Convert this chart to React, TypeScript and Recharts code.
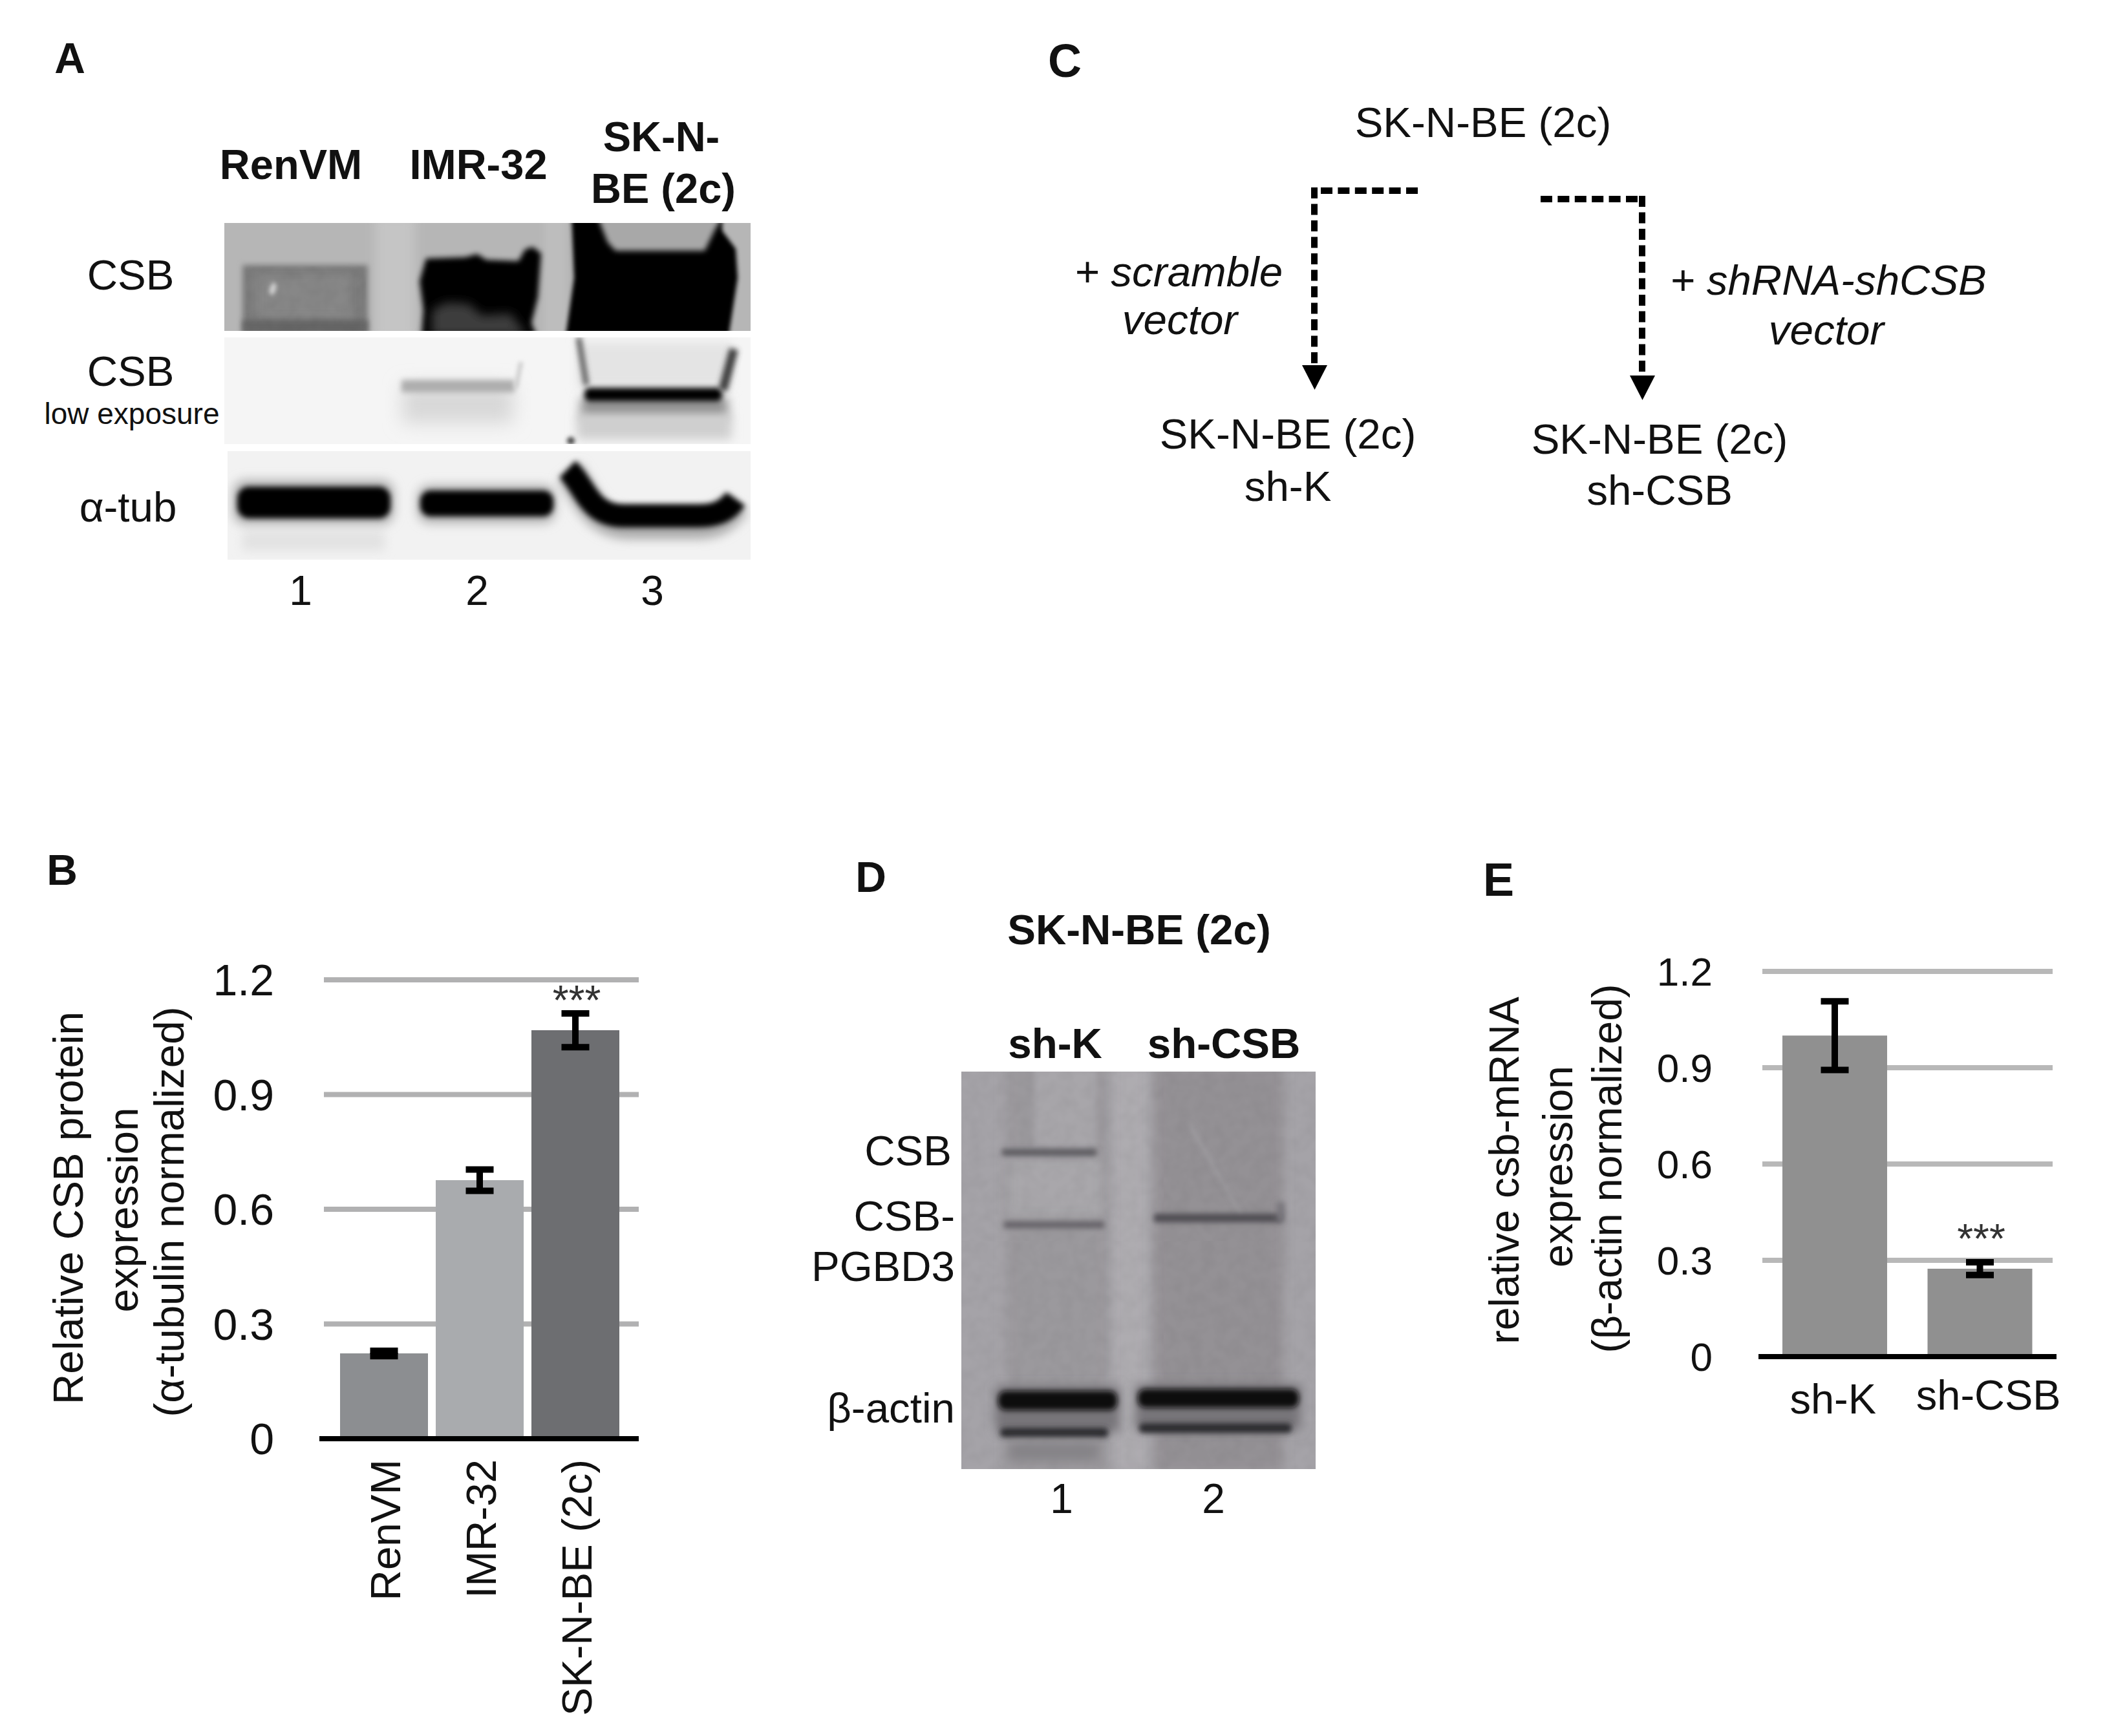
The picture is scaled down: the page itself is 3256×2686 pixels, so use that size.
import React from "react";
import {
  Bar,
  BarChart,
  CartesianGrid,
  Cell,
  ErrorBar,
  LabelList,
  ReferenceLine,
  XAxis,
  YAxis
} from "recharts";

const FONT = "'Liberation Sans', Arial, sans-serif";
const INK = "#111111";

const yTicks = [0, 0.3, 0.6, 0.9, 1.2];

const linesB = ["RenVM", "IMR-32", "SK-N-BE (2c)"];
const valuesB = [0.223, 0.676, 1.068];
const errorsB = [0.007, 0.028, 0.044];
const starsB = ["", "", "***"];
const colorsB = ["#8c8e91", "#a9abae", "#6d6e71"];

const linesE = ["sh-K", "sh-CSB"];
const valuesE = [1.0, 0.274];
const errorsE = [0.107, 0.02];
const starsE = ["", "***"];

const dataB = linesB.map((name, i) => ({ name, value: valuesB[i], err: errorsB[i], stars: starsB[i] }));
const dataE = linesE.map((name, i) => ({ name, value: valuesE[i], err: errorsE[i], stars: starsE[i] }));

function Txt({ x, y, size = 65.5, bold, italic, anchor = "middle", children }: any) {
  return (
    <text
      x={x}
      y={y}
      fontFamily={FONT}
      fontSize={size}
      fontWeight={bold ? 700 : 400}
      fontStyle={italic ? "italic" : "normal"}
      textAnchor={anchor}
      dominantBaseline="central"
      fill={INK}
    >
      {children}
    </text>
  );
}

function VerticalTitle({ lines, size }: { lines: { text: string; x: number; y: number }[]; size: number }) {
  return (
    <g>
      {lines.map((l) => (
        <text
          key={l.text}
          transform={`translate(${l.x},${l.y}) rotate(-90)`}
          fontFamily={FONT}
          fontSize={size}
          textAnchor="middle"
          dominantBaseline="central"
          fill={INK}
        >
          {l.text}
        </text>
      ))}
    </g>
  );
}

function RotatedTick({ x, y, payload }: any) {
  return (
    <text
      transform={`translate(${x + 2},${y + 32}) rotate(-90)`}
      fontFamily={FONT}
      fontSize={65.5}
      textAnchor="end"
      dominantBaseline="central"
      fill={INK}
    >
      {payload.value}
    </text>
  );
}

function Baseline({ x1, x2, y1, extLeft, extRight }: any) {
  return <line x1={x1 - extLeft} x2={x2 + extRight} y1={y1} y2={y1} stroke="#000" strokeWidth={8} />;
}

function Stars({ x, y, width, value }: any) {
  if (!value) return null;
  return (
    <text
      x={x + width / 2 + 2}
      y={y - 46}
      fontFamily={FONT}
      fontSize={64}
      textAnchor="middle"
      dominantBaseline="central"
      fill="#333"
    >
      {value}
    </text>
  );
}

function ChartB() {
  return (
    <div style={{ position: "absolute", left: 0, top: 1460 }}>
      <BarChart
        width={1040}
        height={1226}
        data={dataB}
        barSize={136}
        margin={{ top: 56, right: 52, bottom: 400, left: 0 }}
      >
        <CartesianGrid vertical={false} stroke="#b1b1b2" strokeWidth={8} />
        <XAxis
          dataKey="name"
          height={60}
          interval={0}
          axisLine={false}
          tickLine={false}
          tickSize={0}
          tickMargin={0}
          padding={{ left: 19, right: 24 }}
          tick={<RotatedTick />}
        />
        <YAxis
          width={501}
          domain={[0, 1.2]}
          ticks={yTicks}
          axisLine={false}
          tickLine={false}
          tickSize={0}
          tickMargin={77}
          tick={{ fontFamily: FONT, fontSize: 68, fill: INK }}
          tickFormatter={(v: number) => String(v)}
          label={{
            content: () => (
              <VerticalTitle
                size={65.5}
                lines={[
                  { text: "Relative CSB protein", x: 105, y: 409 },
                  { text: "expression", x: 190, y: 412 },
                  { text: "(\u03b1-tubulin normalized)", x: 261, y: 415 }
                ]}
              />
            )
          }}
        />
        <Bar dataKey="value" isAnimationActive={false}>
          {dataB.map((d, i) => (
            <Cell key={d.name} fill={colorsB[i]} />
          ))}
          <ErrorBar dataKey="err" direction="y" width={21.5} strokeWidth={10} stroke="#000" isAnimationActive={false} />
          <LabelList dataKey="stars" content={<Stars />} />
        </Bar>
        <ReferenceLine y={0} shape={<Baseline extLeft={7} extRight={0} />} />
      </BarChart>
    </div>
  );
}

function PlainTick({ x, y, payload }: any) {
  return (
    <text
      x={x + (payload.value === "sh-CSB" ? 13 : -3)}
      y={y + (payload.value === "sh-CSB" ? 59 : 65)}
      fontFamily={FONT}
      fontSize={65}
      textAnchor="middle"
      dominantBaseline="central"
      fill={INK}
    >
      {payload.value}
    </text>
  );
}

function ChartE() {
  return (
    <div style={{ position: "absolute", left: 2260, top: 1440 }}>
      <BarChart
        width={996}
        height={800}
        data={dataE}
        barSize={162}
        margin={{ top: 63, right: 81, bottom: 101, left: 0 }}
      >
        <CartesianGrid vertical={false} stroke="#b8b8b8" strokeWidth={8} />
        <XAxis
          dataKey="name"
          height={40}
          interval={0}
          axisLine={false}
          tickLine={false}
          tickSize={0}
          tickMargin={0}
          tick={<PlainTick />}
        />
        <YAxis
          width={466}
          domain={[0, 1.2]}
          ticks={yTicks}
          axisLine={false}
          tickLine={false}
          tickSize={0}
          tickMargin={77}
          tick={{ fontFamily: FONT, fontSize: 62, fill: INK }}
          tickFormatter={(v: number) => String(v)}
          label={{
            content: () => (
              <VerticalTitle
                size={64.5}
                lines={[
                  { text: "relative csb-mRNA", x: 67, y: 371 },
                  { text: "expression", x: 150, y: 365 },
                  { text: "(\u03b2-actin normalized)", x: 226, y: 368 }
                ]}
              />
            )
          }}
        />
        <Bar dataKey="value" fill="#909090" isAnimationActive={false}>
          <ErrorBar dataKey="err" direction="y" width={21.5} strokeWidth={10} stroke="#000" isAnimationActive={false} />
          <LabelList dataKey="stars" content={<Stars />} />
        </Bar>
        <ReferenceLine y={0} shape={<Baseline extLeft={6} extRight={6} />} />
      </BarChart>
    </div>
  );
}

// blots are photographs in the source, painted here with blurred shapes
function PanelA() {
  return (
    <g>
      <g clipPath="url(#stripA1)">
        <rect x={347} y={345} width={814} height={167} fill="#b6b6b6" />
        <rect x={580} y={335} width={62} height={190} fill="#c5c5c5" filter="url(#b8)" />
        <rect x={842} y={335} width={34} height={190} fill="#bdbdbd" filter="url(#b4)" />
        <rect x={375} y={410} width={194} height={110} fill="#7b7b7b" filter="url(#b4)" />
        <rect x={395} y={425} width={150} height={70} fill="#878787" filter="url(#b8)" />
        <rect x={375} y={495} width={194} height={20} fill="#666" filter="url(#b4)" />
        <rect x={380} y={412} width={186} height={100} fill="url(#noise)" opacity={0.05} />
        <ellipse cx={422} cy={447} rx={5} ry={10} fill="#d0d0d0" filter="url(#b3)" transform="rotate(15 422 447)" />
        <path
          d="M659 400 L720 398 L738 393 L752 402 L802 404 L812 386 L824 382 L837 392 L832 460 L822 500 L830 520 L652 520 L655 480 L649 435 Z"
          fill="#020202"
          filter="url(#b4)"
        />
        <path d="M668 520 L668 480 L690 468 L725 470 L745 488 L790 485 L815 520 Z" fill="#3e3e3e" filter="url(#b8)" />
        <path
          d="M884 335 L888 430 L875 520 L1127 520 L1141 430 L1138 385 L1117 357 L1117 335 Z"
          fill="#010101"
          filter="url(#b3)"
        />
        <path d="M924 335 L940 375 L952 388 L1090 388 L1106 355 L1118 335 Z" fill="#a8a8a8" filter="url(#b4)" />
      </g>
      <g clipPath="url(#stripA2)">
        <rect x={347} y={522} width={814} height={165} fill="#f5f5f5" />
        <rect x={622} y={595} width={172} height={60} fill="#d8d8d8" filter="url(#b14)" />
        <rect x={621} y={588} width={175} height={19} fill="#aeaeae" filter="url(#b4)" />
        <path d="M806 560 L798 600" stroke="#cfcfcf" strokeWidth={7} fill="none" filter="url(#b3)" />
        <rect x={892} y={530} width={240} height={70} fill="#e4e4e4" filter="url(#b8)" />
        <rect x={898} y={615} width={228} height={34} fill="#8e8e8e" filter="url(#b8)" />
        <rect x={892} y={640} width={240} height={40} fill="#cfcfcf" filter="url(#b8)" />
        <rect x={904} y={600} width={213} height={21} rx={8} fill="#020202" filter="url(#b4)" />
        <path d="M895 522 L907 596" stroke="#555" strokeWidth={8} fill="none" filter="url(#b4)" />
        <path d="M1135 540 L1118 604" stroke="#3e3e3e" strokeWidth={14} fill="none" filter="url(#b4)" />
        <circle cx={883} cy={682} r={6} fill="#444" filter="url(#b3)" />
      </g>
      <g clipPath="url(#stripA3)">
        <rect x={352} y={698} width={809} height={168} fill="#f2f2f2" />
        <rect x={375} y={822} width={220} height={30} fill="#e2e2e2" filter="url(#b8)" />
        <rect x={360} y={742} width={250} height={70} rx={20} fill="#b4b4b4" filter="url(#b8)" />
        <rect x={645} y={750} width={215} height={60} rx={20} fill="#b4b4b4" filter="url(#b8)" />
        <rect x={367} y={753} width={237} height={49} rx={18} fill="#020202" filter="url(#b4)" />
        <rect x={650} y={759} width={206} height={40} rx={16} fill="#060606" filter="url(#b4)" />
        <path d="M880 730 C905 762, 915 812, 975 812 L1075 812 C1110 812, 1125 800, 1138 780" stroke="#aaa" strokeWidth={44} fill="none" filter="url(#b8)" />
        <path
          d="M878 726 C905 752, 910 798, 965 798 L1080 798 C1110 798, 1125 790, 1138 772"
          stroke="#030303"
          strokeWidth={36}
          fill="none"
          filter="url(#b4)"
        />
      </g>
    </g>
  );
}

function PanelD() {
  return (
    <g>
      <g clipPath="url(#stripD)">
        <rect x={1487} y={1658} width={548} height={615} fill="#a5a3a8" />
        <rect x={1718} y={1650} width={58} height={630} fill="#aeacb0" filter="url(#b8)" />
        <rect x={1555} y={1650} width={160} height={630} fill="#9b999d" filter="url(#b8)" />
        <rect x={1785} y={1650} width={200} height={630} fill="#949195" filter="url(#b8)" />
        <rect x={1600} y={1650} width={96} height={125} fill="#a8a6aa" filter="url(#b4)" />
        <rect x={1560} y={1792} width={145} height={90} fill="#a9a7ab" filter="url(#b8)" />
        <path d="M1840 1740 L1920 1880" stroke="#9c9a9e" strokeWidth={6} filter="url(#b3)" />
        <rect x={1487} y={1658} width={548} height={615} fill="url(#noise)" opacity={0.04} />
        <rect x={1550} y={1778} width={146} height={10} fill="#58565c" filter="url(#b4)" />
        <rect x={1553} y={1890} width={155} height={10} fill="#625f65" filter="url(#b4)" />
        <rect x={1785} y={1878} width={198} height={13} fill="#4e4c51" filter="url(#b4)" />
        <rect x={1975} y={1860} width={12} height={30} fill="#77757a" filter="url(#b4)" />
        <rect x={1540} y={2145} width={192} height={70} fill="#777579" filter="url(#b8)" />
        <rect x={1756} y={2142} width={256} height={70} fill="#777579" filter="url(#b8)" />
        <rect x={1544} y={2152} width={184} height={30} rx={12} fill="#0e0c0e" filter="url(#b4)" />
        <rect x={1760} y={2149} width={249} height={29} rx={12} fill="#0e0c0e" filter="url(#b4)" />
        <rect x={1547} y={2209} width={167} height={15} rx={6} fill="#2c2a2d" filter="url(#b4)" />
        <rect x={1762} y={2202} width={236} height={15} rx={6} fill="#2c2a2d" filter="url(#b4)" />
        <rect x={1560} y={2232} width={140} height={28} fill="#858387" filter="url(#b8)" />
      </g>
    </g>
  );
}

function PanelC() {
  const base = { stroke: "#000", strokeWidth: 10, fill: "none" };
  return (
    <g>
      <path d="M2193 295 L2043 295" {...base} strokeDasharray="18 8.4" />
      <path d="M2033 290 L2033 566" {...base} strokeDasharray="17 8.5" />
      <polygon points="2014,565 2053,565 2033.5,603" fill="#000" />
      <path d="M2383 308 L2540 308" {...base} strokeDasharray="18 8.4" />
      <path d="M2540 303 L2540 582" {...base} strokeDasharray="17 8.5" />
      <polygon points="2521,581 2560,581 2540.5,619" fill="#000" />
    </g>
  );
}

function Overlay() {
  return (
    <svg width={3256} height={2686} style={{ position: "absolute", left: 0, top: 0 }}>
      <defs>
        {[2, 3, 4, 8, 14].map((s) => (
          <filter key={s} id={`b${s}`} filterUnits="userSpaceOnUse" x={0} y={0} width={3256} height={2686}>
            <feGaussianBlur stdDeviation={s} />
          </filter>
        ))}
        <filter id="grain" x="0" y="0" width="100%" height="100%">
          <feTurbulence type="fractalNoise" baseFrequency="0.05" numOctaves={2} seed={4} />
          <feColorMatrix values="0 0 0 0 0  0 0 0 0 0  0 0 0 0 0  1.6 0 0 0 -0.5" />
        </filter>
        <pattern id="noise" patternUnits="userSpaceOnUse" width={600} height={640}>
          <rect width={600} height={640} filter="url(#grain)" />
        </pattern>
        <clipPath id="stripA1"><rect x={347} y={345} width={814} height={167} /></clipPath>
        <clipPath id="stripA2"><rect x={347} y={522} width={814} height={165} /></clipPath>
        <clipPath id="stripA3"><rect x={352} y={698} width={809} height={168} /></clipPath>
        <clipPath id="stripD"><rect x={1487} y={1658} width={548} height={615} /></clipPath>
      </defs>

      <PanelA />
      <PanelD />
      <PanelC />

      <Txt x={108} y={90} size={66} bold>A</Txt>
      <Txt x={96} y={1346} size={66} bold>B</Txt>
      <Txt x={1647} y={94} size={72} bold>C</Txt>
      <Txt x={1347} y={1357} size={66} bold>D</Txt>
      <Txt x={2318} y={1361} size={72} bold>E</Txt>

      <Txt x={450} y={254} size={65} bold>RenVM</Txt>
      <Txt x={740} y={254} size={65} bold>IMR-32</Txt>
      <Txt x={1023} y={211} size={65} bold>SK-N-</Txt>
      <Txt x={1026} y={291} size={65} bold>BE (2c)</Txt>
      <Txt x={202} y={425}>CSB</Txt>
      <Txt x={202} y={574}>CSB</Txt>
      <Txt x={204} y={640} size={46}>low exposure</Txt>
      <Txt x={198} y={784}>{"\u03b1-tub"}</Txt>
      <Txt x={465} y={914} size={64}>1</Txt>
      <Txt x={738} y={914} size={64}>2</Txt>
      <Txt x={1009} y={914} size={64}>3</Txt>

      <Txt x={2294} y={189}>SK-N-BE (2c)</Txt>
      <Txt x={1823} y={420} italic>+ scramble</Txt>
      <Txt x={1825} y={494} italic>vector</Txt>
      <Txt x={2828} y={433} italic>+ shRNA-shCSB</Txt>
      <Txt x={2825} y={510} italic>vector</Txt>
      <Txt x={1992} y={671}>SK-N-BE (2c)</Txt>
      <Txt x={1992} y={752}>sh-K</Txt>
      <Txt x={2567} y={679}>SK-N-BE (2c)</Txt>
      <Txt x={2567} y={758}>sh-CSB</Txt>

      <Txt x={1762} y={1438} bold>SK-N-BE (2c)</Txt>
      <Txt x={1632} y={1614} bold>sh-K</Txt>
      <Txt x={1893} y={1614} bold>sh-CSB</Txt>
      <Txt x={1472} y={1780} anchor="end">CSB</Txt>
      <Txt x={1477} y={1881} anchor="end">CSB-</Txt>
      <Txt x={1477} y={1959} anchor="end">PGBD3</Txt>
      <Txt x={1477} y={2178} anchor="end">{"\u03b2-actin"}</Txt>
      <Txt x={1642} y={2319} size={64}>1</Txt>
      <Txt x={1877} y={2319} size={64}>2</Txt>
    </svg>
  );
}

export default function App() {
  return (
    <div style={{ position: "absolute", left: 0, top: 0, width: 3256, height: 2686, background: "#fff", overflow: "hidden" }}>
      <Overlay />
      <ChartB />
      <ChartE />
    </div>
  );
}
